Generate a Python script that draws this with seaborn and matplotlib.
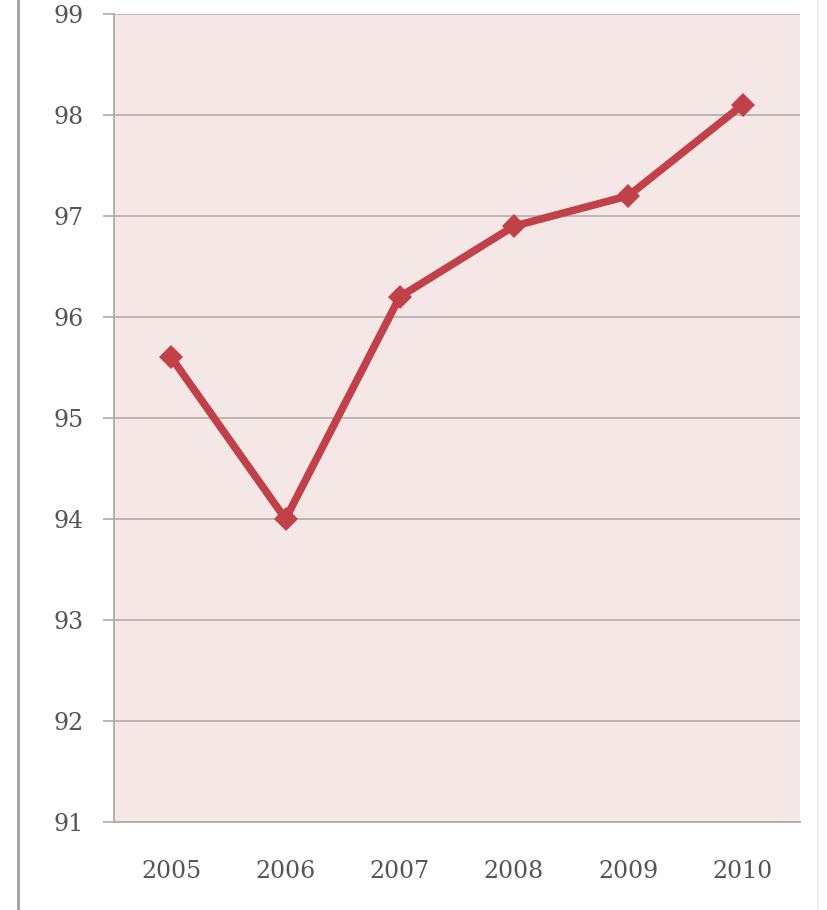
import matplotlib
matplotlib.use("Agg")
import matplotlib.pyplot as plt
import seaborn as sns
import pandas as pd
from matplotlib.lines import Line2D

# chart data
years = ["2005", "2006", "2007", "2008", "2009", "2010"]
values = [95.6, 94.0, 96.2, 96.9, 97.2, 98.1]

df = pd.DataFrame({"year": years, "value": values})

sns.set_style("white")
plt.rcParams["font.family"] = ["DejaVu Serif", "Liberation Serif"]

fig = plt.figure(figsize=(8.27, 9.10), dpi=100)
ax = fig.add_axes([0.138, 0.0967, 0.829, 0.8879])
ax.set_facecolor("#f6e7e7")

sns.lineplot(data=df, x="year", y="value", ax=ax, color="#c1414b",
             linewidth=5.5, marker="D", markersize=12, markeredgewidth=0,
             sort=False)

ax.set_ylim(91, 99)
ax.set_xlim(-0.5, len(years) - 0.5)
ax.set_yticks(range(91, 100))
ax.yaxis.grid(True, color="#b9b1b1", linewidth=1.3)
ax.set_axisbelow(True)

# x ticks: labels centered, tick marks on category boundaries
ax.set_xticks(range(len(years)))
ax.set_xticklabels(years)
ax.set_xticks([i - 0.5 for i in range(len(years) + 1)], minor=True)
ax.tick_params(axis="x", which="major", length=0, pad=27, labelsize=17, labelcolor="#555555")
ax.tick_params(axis="x", which="minor", length=7, width=1.2, color="#b0aaaa", direction="out")
ax.tick_params(axis="y", which="major", length=8, width=1.2, color="#b0aaaa", direction="out",
               pad=14, labelsize=17, labelcolor="#555555", left=True)

ax.set_xlabel("")
ax.set_ylabel("")

for side in ["top", "right"]:
    ax.spines[side].set_visible(False)
for side in ["left", "bottom"]:
    ax.spines[side].set_color("#b0aaaa")
    ax.spines[side].set_linewidth(1.3)

# frame lines around the figure
fig.add_artist(Line2D([0.022, 0.022], [0, 1], transform=fig.transFigure, color="#a0a0a0", linewidth=2))
fig.add_artist(Line2D([0.989, 0.989], [0, 1], transform=fig.transFigure, color="#eeeeee", linewidth=1.5))

plt.savefig("out.png", dpi=100)
